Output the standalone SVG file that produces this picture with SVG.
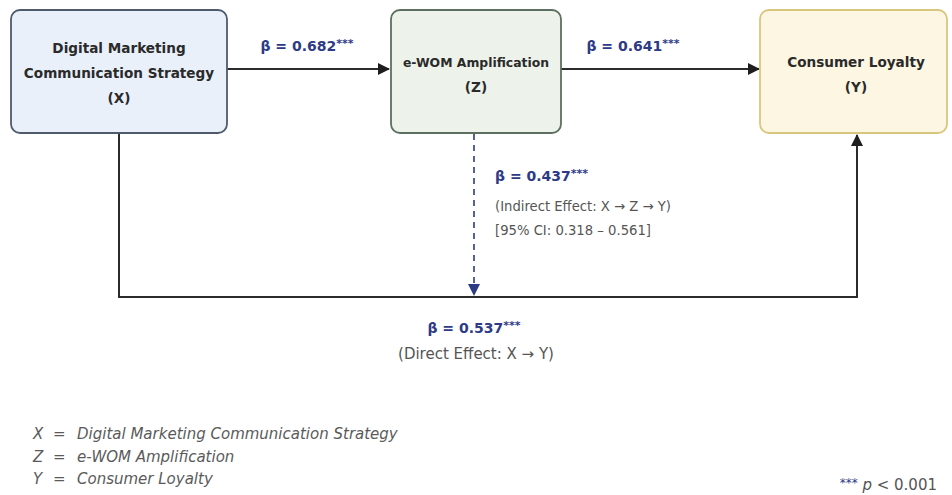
<svg xmlns="http://www.w3.org/2000/svg" width="952" height="495" viewBox="0 0 952 495">
<style>
.bg{fill:#ffffff}
.box{stroke-width:1.8}
.bx{fill:#e9f0fa;stroke:#4f5b6c}
.bz{fill:#edf3eb;stroke:#5d6f5f}
.by{fill:#fdf6e2;stroke:#d9c67d}
.nt{font-family:"DejaVu Sans",sans-serif;font-weight:bold;font-size:13.6px;fill:#2a2a2a;text-anchor:middle}
.beta{font-family:"DejaVu Sans",sans-serif;font-weight:bold;font-size:14px;fill:#2d3a86}
.sup{font-size:11px}
.note{font-family:"DejaVu Sans",sans-serif;font-size:13.2px;fill:#555555}
.leg{font-family:"DejaVu Sans",sans-serif;font-style:italic;font-size:15px;fill:#5a5a5a}
.line{fill:none;stroke:#2b2b2b;stroke-width:2}
.dash{fill:none;stroke:#2d3a86;stroke-width:1.6;stroke-dasharray:6 5}
</style>
<defs>
<marker id="ah" viewBox="0 0 12 12" refX="11" refY="6" markerWidth="12" markerHeight="12" markerUnits="userSpaceOnUse" orient="auto">
<path d="M0,0 L12,6 L0,12 z" fill="#1e1e1e"/>
</marker>
<marker id="ahb" viewBox="0 0 12 12" refX="11" refY="6" markerWidth="12" markerHeight="12" markerUnits="userSpaceOnUse" orient="auto">
<path d="M0,0 L12,6 L0,12 z" fill="#2d3a86"/>
</marker>
</defs>
<rect class="bg" x="0" y="0" width="952" height="495"/>
<g id="connectors">
<path class="line" d="M227,69 H389" marker-end="url(#ah)"/>
<path class="line" d="M561,69 H759" marker-end="url(#ah)"/>
<path class="line" d="M119,133 V297 H857 V135" marker-end="url(#ah)"/>
<path class="dash" d="M474,134 V295" marker-end="url(#ahb)"/>
</g>
<g id="node-x">
<rect class="box bx" x="11" y="10" width="216" height="123" rx="9"/>
<text class="nt" x="119" y="53">Digital Marketing</text>
<text class="nt" x="119" y="78">Communication Strategy</text>
<text class="nt" x="119" y="103">(X)</text>
</g>
<g id="node-z">
<rect class="box bz" x="391" y="10" width="170" height="123" rx="9"/>
<text class="nt" x="476" y="67" style="font-size:12.4px">e-WOM Amplification</text>
<text class="nt" x="476" y="92">(Z)</text>
</g>
<g id="node-y">
<rect class="box by" x="760" y="10" width="187" height="123" rx="9"/>
<text class="nt" x="856" y="67">Consumer Loyalty</text>
<text class="nt" x="856" y="92">(Y)</text>
</g>
<g id="labels">
<text class="beta" x="307" y="51" text-anchor="middle">β = 0.682<tspan class="sup" dy="-4">***</tspan></text>
<text class="beta" x="633" y="51" text-anchor="middle">β = 0.641<tspan class="sup" dy="-4">***</tspan></text>
<text class="beta" x="495" y="181">β = 0.437<tspan class="sup" dy="-4">***</tspan></text>
<text class="note" x="495" y="211">(Indirect Effect: X → Z → Y)</text>
<text class="note" x="495" y="235">[95% CI: 0.318 – 0.561]</text>
<text class="beta" x="474" y="333" text-anchor="middle">β = 0.537<tspan class="sup" dy="-4">***</tspan></text>
<text class="note" x="476" y="359" text-anchor="middle" style="font-size:15px">(Direct Effect: X → Y)</text>
</g>
<g id="legend">
<text class="leg" x="33" y="439">X</text><text class="leg" x="53" y="439">=</text><text class="leg" x="77" y="439">Digital Marketing Communication Strategy</text>
<text class="leg" x="33" y="462">Z</text><text class="leg" x="53" y="462">=</text><text class="leg" x="77" y="462">e-WOM Amplification</text>
<text class="leg" x="33" y="484">Y</text><text class="leg" x="53" y="484">=</text><text class="leg" x="77" y="484">Consumer Loyalty</text>
<text x="937" y="490" text-anchor="end" font-family="DejaVu Sans, sans-serif" font-size="15px" fill="#555555"><tspan fill="#2d3a86" font-size="12px" dy="-3">***</tspan><tspan dy="3">  </tspan><tspan font-style="italic">p</tspan> &lt; 0.001</text>
</g>
</svg>
